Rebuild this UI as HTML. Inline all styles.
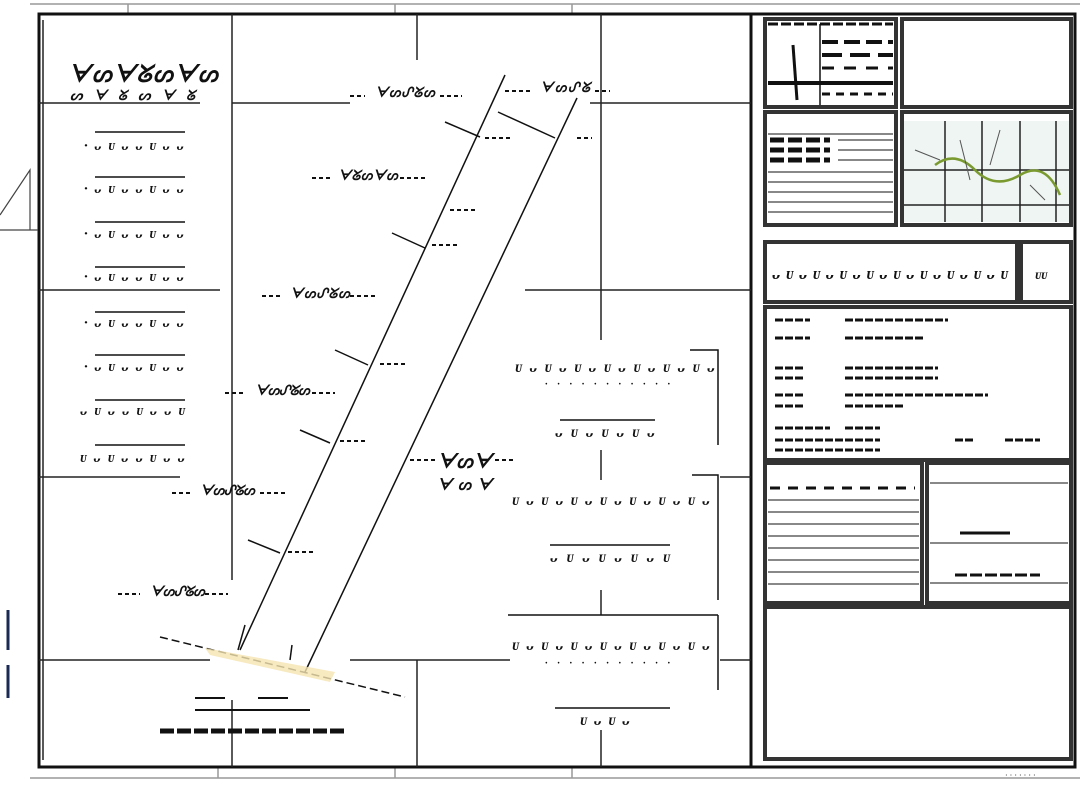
<!DOCTYPE html>
<html><head><meta charset="utf-8"><style>
html,body{margin:0;padding:0;background:#fff;width:1080px;height:785px;overflow:hidden}
text{font-family:"Liberation Serif",serif;fill:#111}
</style></head><body>
<svg width="1080" height="785" viewBox="0 0 1080 785" xmlns="http://www.w3.org/2000/svg">
<rect width="1080" height="785" fill="#fff"/>
<g stroke="#999" stroke-width="1.5" fill="none">
<line x1="30" y1="4" x2="1080" y2="4"/>
<line x1="30" y1="778" x2="1080" y2="778"/>
<line x1="128" y1="4" x2="128" y2="14"/><line x1="395" y1="4" x2="395" y2="14"/><line x1="572" y1="4" x2="572" y2="14"/>
<line x1="218" y1="767" x2="218" y2="778"/><line x1="395" y1="767" x2="395" y2="778"/><line x1="572" y1="767" x2="572" y2="778"/>
</g>
<rect x="39" y="14" width="1036" height="753" fill="none" stroke="#111" stroke-width="3"/>
<line x1="751" y1="14" x2="751" y2="767" stroke="#111" stroke-width="3"/>
<g stroke="#222" stroke-width="1.5">
<line x1="39" y1="103" x2="200" y2="103"/><line x1="232" y1="103" x2="350" y2="103"/><line x1="590" y1="103" x2="751" y2="103"/>
<line x1="39" y1="290" x2="220" y2="290"/><line x1="525" y1="290" x2="751" y2="290"/>
<line x1="39" y1="477" x2="180" y2="477"/><line x1="720" y1="477" x2="751" y2="477"/>
<line x1="39" y1="660" x2="210" y2="660"/><line x1="350" y1="660" x2="510" y2="660"/><line x1="720" y1="660" x2="751" y2="660"/>
<line x1="232" y1="14" x2="232" y2="580"/><line x1="232" y1="700" x2="232" y2="767"/>
<line x1="417" y1="14" x2="417" y2="60"/><line x1="417" y1="660" x2="417" y2="767"/>
<line x1="601" y1="14" x2="601" y2="340"/><line x1="601" y1="450" x2="601" y2="480"/><line x1="601" y1="590" x2="601" y2="615"/><line x1="601" y1="730" x2="601" y2="767"/>
<line x1="43" y1="20" x2="43" y2="760"/>
</g>
<g stroke="#111" stroke-width="1.5">
<line x1="505" y1="75" x2="240" y2="650"/>
<line x1="577" y1="98" x2="305" y2="672"/>
<line x1="498" y1="112" x2="555" y2="138"/>
<line x1="445" y1="122" x2="480" y2="137"/>
<line x1="392" y1="233" x2="425" y2="248"/>
<line x1="335" y1="350" x2="368" y2="365"/>
<line x1="300" y1="430" x2="330" y2="443"/>
<line x1="248" y1="540" x2="280" y2="553"/>
<line x1="160" y1="637" x2="405" y2="697" stroke-dasharray="8,4"/>
<line x1="292" y1="645" x2="290" y2="660"/><line x1="245" y1="625" x2="238" y2="650"/>
</g>
<polygon points="205,648 335,672 330,682 210,655" fill="#f5e3b0" opacity="0.8"/>
<g font-size="14" font-style="italic" font-weight="bold">
<text x="375" y="97" textLength="60">ᗄᔕᔑᘜᔕ</text><text x="540" y="92" textLength="50">ᗄᔕᔑᘜ</text>
<text x="338" y="180" textLength="60">ᗄᘜᔕᗄᔕ</text><text x="290" y="298" textLength="60">ᗄᔕᔑᘜᔕ</text>
<text x="255" y="395" textLength="55">ᗄᔕᔑᘜᔕ</text><text x="200" y="495" textLength="55">ᗄᔕᔑᘜᔕ</text><text x="150" y="596" textLength="55">ᗄᔕᔑᘜᔕ</text>
</g>
<g stroke="#111" stroke-width="2" stroke-dasharray="4,3">
<line x1="350" y1="96" x2="365" y2="96"/><line x1="440" y1="96" x2="462" y2="96"/>
<line x1="505" y1="91" x2="530" y2="91"/><line x1="595" y1="91" x2="610" y2="91"/>
<line x1="312" y1="178" x2="330" y2="178"/><line x1="400" y1="178" x2="425" y2="178"/>
<line x1="485" y1="138" x2="510" y2="138"/><line x1="577" y1="138" x2="592" y2="138"/>
<line x1="450" y1="210" x2="475" y2="210"/><line x1="432" y1="245" x2="460" y2="245"/>
<line x1="262" y1="296" x2="282" y2="296"/><line x1="350" y1="296" x2="375" y2="296"/>
<line x1="380" y1="364" x2="405" y2="364"/><line x1="225" y1="393" x2="245" y2="393"/><line x1="312" y1="393" x2="335" y2="393"/>
<line x1="340" y1="441" x2="368" y2="441"/><line x1="172" y1="493" x2="190" y2="493"/><line x1="260" y1="493" x2="285" y2="493"/>
<line x1="288" y1="552" x2="315" y2="552"/><line x1="118" y1="594" x2="140" y2="594"/><line x1="205" y1="594" x2="228" y2="594"/>
<line x1="410" y1="460" x2="435" y2="460"/><line x1="495" y1="460" x2="515" y2="460"/>
</g>
<text x="68" y="82" font-size="24" font-weight="bold" font-style="italic" textLength="150">ᗄᔕᗄᘜᔕᗄᔕ</text>
<text x="70" y="100" font-size="14" font-weight="bold" font-style="italic" textLength="125">ᔕᗄᘜᔕᗄᘜ</text>
<g stroke="#111" stroke-width="1.5">
<line x1="95" y1="132" x2="185" y2="132"/><line x1="95" y1="177" x2="185" y2="177"/><line x1="95" y1="222" x2="185" y2="222"/>
<line x1="95" y1="267" x2="185" y2="267"/><line x1="95" y1="312" x2="185" y2="312"/><line x1="95" y1="355" x2="185" y2="355"/>
<line x1="95" y1="400" x2="185" y2="400"/><line x1="95" y1="445" x2="185" y2="445"/>
</g>
<g font-size="15" font-style="italic" font-weight="bold">
<text x="84" y="150" textLength="100">·ᴗᴜᴗᴗᴜᴗᴗ</text><text x="84" y="193" textLength="100">·ᴗᴜᴗᴗᴜᴗᴗ</text>
<text x="84" y="238" textLength="100">·ᴗᴜᴗᴗᴜᴗᴗ</text><text x="84" y="281" textLength="100">·ᴗᴜᴗᴗᴜᴗᴗ</text>
<text x="84" y="327" textLength="100">·ᴗᴜᴗᴗᴜᴗᴗ</text><text x="84" y="371" textLength="100">·ᴗᴜᴗᴗᴜᴗᴗ</text>
<text x="80" y="415" textLength="105">ᴗᴜᴗᴗᴜᴗᴗᴜ</text><text x="80" y="462" textLength="105">ᴜᴗᴜᴗᴗᴜᴗᴗ</text>
</g>
<g font-size="16" font-style="italic" font-weight="bold">
<text x="515" y="372" textLength="200">ᴜᴗᴜᴗᴜᴗᴜᴗᴜᴗᴜᴗᴜᴗ</text>
<text x="545" y="387" font-size="10" textLength="125">· · · · · · · · · · ·</text>
<text x="555" y="437" textLength="100">ᴗᴜᴗᴜᴗᴜᴗ</text>
<text x="512" y="505" textLength="198">ᴜᴗᴜᴗᴜᴗᴜᴗᴜᴗᴜᴗᴜᴗ</text>
<text x="550" y="562" textLength="120">ᴗᴜᴗᴜᴗᴜᴗᴜ</text>
<text x="512" y="650" textLength="198">ᴜᴗᴜᴗᴜᴗᴜᴗᴜᴗᴜᴗᴜᴗ</text>
<text x="545" y="666" font-size="10" textLength="125">· · · · · · · · · · ·</text>
<text x="580" y="725" textLength="50">ᴜᴗᴜᴗ</text>
<text x="437" y="468" font-size="20" font-weight="bold" textLength="55">ᗄᔕᗄ</text>
<text x="437" y="490" font-size="16" font-weight="bold" textLength="55">ᗄᔕᗄ</text>
</g>
<g stroke="#111" stroke-width="1.5" fill="none">
<polyline points="690,350 718,350 718,445"/>
<polyline points="692,475 718,475 718,600"/>
<line x1="508" y1="615" x2="718" y2="615"/><line x1="718" y1="615" x2="718" y2="690"/>
<line x1="550" y1="545" x2="670" y2="545"/><line x1="560" y1="420" x2="655" y2="420"/>
<line x1="555" y1="708" x2="670" y2="708"/>
</g>
<g stroke="#111">
<line x1="195" y1="698" x2="225" y2="698" stroke-width="2"/><line x1="258" y1="698" x2="288" y2="698" stroke-width="2"/>
<line x1="195" y1="710" x2="310" y2="710" stroke-width="2"/>
<line x1="160" y1="731" x2="345" y2="731" stroke-width="5" stroke-dasharray="14,3"/>
</g>
<g stroke="#1a2a55" stroke-width="3"><line x1="8" y1="610" x2="8" y2="650"/><line x1="8" y1="665" x2="8" y2="698"/></g>
<g stroke="#444" stroke-width="1.2" fill="none"><polyline points="0,215 30,170 30,230"/><line x1="0" y1="230" x2="38" y2="230"/></g>
<g fill="#fff" stroke="#333" stroke-width="4">
<rect x="765" y="19" width="131" height="88"/><rect x="902" y="19" width="169" height="88"/>
<rect x="765" y="112" width="131" height="113"/><rect x="902" y="112" width="169" height="113"/>
<rect x="765" y="242" width="252" height="60"/><rect x="1021" y="242" width="50" height="60"/>
<rect x="765" y="307" width="306" height="153"/>
<rect x="765" y="463" width="157" height="140"/><rect x="927" y="463" width="144" height="140"/>
<rect x="765" y="607" width="306" height="152"/>
</g>
<rect x="904" y="121" width="165" height="101" fill="#eef5f2"/>
<g stroke="#222" stroke-width="1.5" fill="none">
<line x1="904" y1="170" x2="1069" y2="170"/><line x1="904" y1="205" x2="1069" y2="205"/>
<line x1="945" y1="121" x2="945" y2="222"/><line x1="982" y1="121" x2="982" y2="222"/><line x1="1020" y1="121" x2="1020" y2="222"/><line x1="1056" y1="121" x2="1056" y2="222"/>
<path d="M935 165 Q955 150 975 170 T1020 175 T1060 195" stroke="#7a9a30" stroke-width="2.5"/>
<path d="M915 150 L940 160 M960 140 L970 180 M1000 130 L990 165 M1030 185 L1045 200" stroke="#555" stroke-width="1"/>
</g>
<g stroke="#111">
<line x1="768" y1="24" x2="893" y2="24" stroke-width="3" stroke-dasharray="10,3"/>
<line x1="768" y1="83" x2="893" y2="83" stroke-width="4"/>
<line x1="820" y1="24" x2="820" y2="105" stroke-width="1.5"/>
<line x1="793" y1="45" x2="797" y2="100" stroke-width="3"/>
<line x1="822" y1="42" x2="893" y2="42" stroke-width="4" stroke-dasharray="16,6"/>
<line x1="822" y1="55" x2="893" y2="55" stroke-width="4" stroke-dasharray="20,8"/>
<line x1="822" y1="68" x2="893" y2="68" stroke-width="3" stroke-dasharray="12,10"/>
<line x1="822" y1="94" x2="893" y2="94" stroke-width="3" stroke-dasharray="8,6"/>
</g>
<g stroke="#111">
<line x1="768" y1="134" x2="893" y2="134" stroke-width="1"/>
<line x1="770" y1="140" x2="830" y2="140" stroke-width="5" stroke-dasharray="14,4"/>
<line x1="770" y1="150" x2="830" y2="150" stroke-width="5" stroke-dasharray="14,4"/>
<line x1="770" y1="160" x2="830" y2="160" stroke-width="5" stroke-dasharray="14,4"/>
<g stroke-width="1"><line x1="838" y1="140" x2="893" y2="140"/><line x1="838" y1="150" x2="893" y2="150"/><line x1="838" y1="160" x2="893" y2="160"/><line x1="768" y1="172" x2="893" y2="172"/><line x1="768" y1="182" x2="893" y2="182"/><line x1="768" y1="192" x2="893" y2="192"/><line x1="768" y1="202" x2="893" y2="202"/><line x1="768" y1="212" x2="893" y2="212"/></g>
</g>
<text x="772" y="279" font-size="17" font-weight="bold" font-style="italic" textLength="236">ᴗᴜᴗᴜᴗᴜᴗᴜᴗᴜᴗᴜᴗᴜᴗᴜᴗᴜ</text>
<text x="1035" y="279" font-size="14" font-weight="bold" font-style="italic">ᴜᴜ</text>
<g stroke="#111" stroke-width="3" stroke-dasharray="8,2">
<line x1="775" y1="320" x2="810" y2="320"/><line x1="845" y1="320" x2="948" y2="320"/>
<line x1="775" y1="338" x2="810" y2="338"/><line x1="845" y1="338" x2="925" y2="338"/>
<line x1="775" y1="368" x2="805" y2="368"/><line x1="845" y1="368" x2="938" y2="368"/>
<line x1="775" y1="378" x2="805" y2="378"/><line x1="845" y1="378" x2="938" y2="378"/>
<line x1="775" y1="395" x2="805" y2="395"/><line x1="845" y1="395" x2="988" y2="395"/>
<line x1="775" y1="406" x2="805" y2="406"/><line x1="845" y1="406" x2="905" y2="406"/>
<line x1="775" y1="428" x2="830" y2="428"/><line x1="845" y1="428" x2="880" y2="428"/>
<line x1="775" y1="440" x2="880" y2="440"/><line x1="955" y1="440" x2="975" y2="440"/><line x1="1005" y1="440" x2="1040" y2="440"/>
<line x1="775" y1="450" x2="880" y2="450"/>
</g>
<g stroke="#111" stroke-width="1">
<line x1="768" y1="500" x2="919" y2="500"/><line x1="768" y1="512" x2="919" y2="512"/><line x1="768" y1="524" x2="919" y2="524"/>
<line x1="768" y1="536" x2="919" y2="536"/><line x1="768" y1="548" x2="919" y2="548"/><line x1="768" y1="560" x2="919" y2="560"/>
<line x1="768" y1="572" x2="919" y2="572"/><line x1="768" y1="584" x2="919" y2="584"/>
<line x1="930" y1="483" x2="1068" y2="483"/><line x1="930" y1="543" x2="1068" y2="543"/>
<line x1="930" y1="583" x2="1068" y2="583"/>
<line x1="770" y1="488" x2="915" y2="488" stroke-width="3" stroke-dasharray="10,8"/>
<line x1="960" y1="533" x2="1010" y2="533" stroke-width="3"/><line x1="955" y1="575" x2="1040" y2="575" stroke-width="3" stroke-dasharray="12,3"/>
</g>
<text x="1005" y="778" font-size="8">· · · · · · ·</text>
</svg>
</body></html>
